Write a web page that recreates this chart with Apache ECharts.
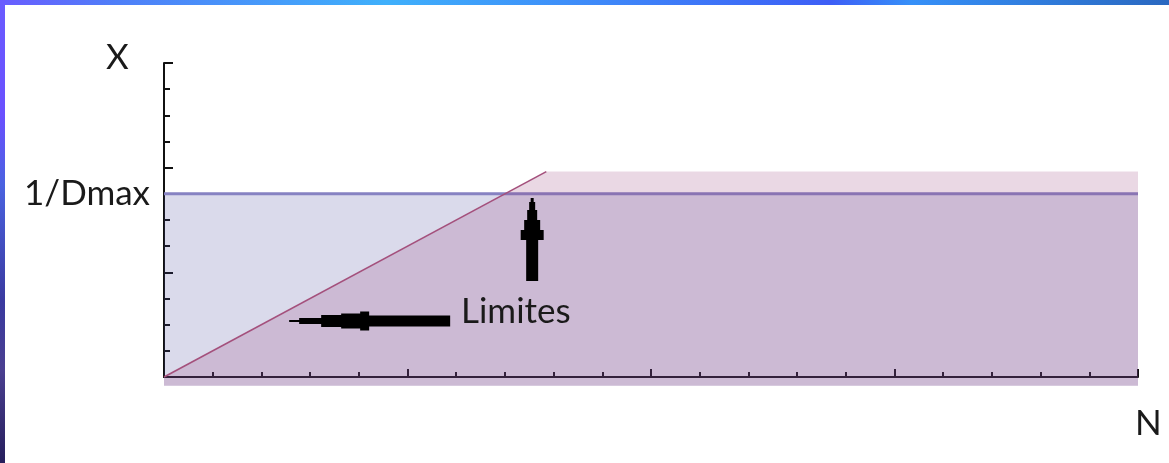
<!DOCTYPE html>
<html>
<head>
<meta charset="utf-8">
<script src="https://cdn.jsdelivr.net/npm/echarts@6/dist/echarts.min.js"></script>
<style>
  html, body { margin: 0; padding: 0; background: #fff; }
  #chart { width: 1169px; height: 463px; }
</style>
</head>
<body>
<div id="chart"></div>
<script>
// N axis range and X axis range
var nRange = [0, 20];
var xRange = [0, 12];

// 1/Dmax level (horizontal line)
var dmaxN = [0, 20];
var dmaxX = [7, 7];

// N/D curve: rises as N/D, then flat
var ndN = [0, 7.85, 20];
var ndX = [0, 7.85, 7.85];

// arrow tips (data coords) for the "Limites" annotation
var arrowLeftTip = [2.57, 2.14];
var arrowUpTip = [7.56, 6.84];

var fillBottom = -0.33; // fill goes a bit under the N axis

function pairs(a, b) {
    var out = [];
    for (var i = 0; i < a.length; i++) out.push([a[i], b[i]]);
    return out;
}

var txtFont = 'Lato';
var txtSize = 35;
var axisColor = '#111';
var chart = echarts.init(document.getElementById('chart'));

var option = {
    backgroundColor: '#fff',
    animation: false,
    grid: {left: 164, top: 63, right: 31, bottom: 86},
    xAxis: [
        {
            type: 'value', min: nRange[0], max: nRange[1], interval: 1,
            axisLine: {onZero: false, lineStyle: {color: axisColor, width: 2}},
            axisTick: {inside: true, length: 5, lineStyle: {color: axisColor, width: 2}},
            axisLabel: {show: false},
            splitLine: {show: false}
        },
        {
            // longer ticks every 5
            type: 'value', position: 'bottom', min: nRange[0], max: nRange[1], interval: 5,
            axisLine: {show: false, onZero: false},
            axisTick: {inside: true, length: 8, lineStyle: {color: axisColor, width: 2}},
            axisLabel: {show: false},
            splitLine: {show: false}
        }
    ],
    yAxis: [
        {
            type: 'value', min: xRange[0], max: xRange[1], interval: 1,
            axisLine: {onZero: false, lineStyle: {color: axisColor, width: 2}},
            axisTick: {inside: true, length: 6, lineStyle: {color: axisColor, width: 2}},
            axisLabel: {
                margin: 14, fontFamily: txtFont, fontSize: txtSize, color: '#1a1a1a',
                formatter: function (v) { return v === dmaxX[0] ? '1/Dmax' : ''; }
            },
            splitLine: {show: false}
        },
        {
            type: 'value', position: 'left', min: xRange[0], max: xRange[1], interval: 4,
            axisLine: {show: false, onZero: false},
            axisTick: {inside: true, length: 9, lineStyle: {color: axisColor, width: 2}},
            axisLabel: {show: false},
            splitLine: {show: false}
        }
    ],
    series: [
        {
            name: '1/Dmax',
            type: 'line',
            clip: false,
            symbol: 'none',
            data: pairs(dmaxN, dmaxX),
            lineStyle: {color: '#8682c2', width: 3},
            areaStyle: {color: 'rgba(70,70,155,0.2)', opacity: 1, origin: fillBottom},
            z: 2
        },
        {
            name: 'N/D fill',
            type: 'line',
            clip: false,
            symbol: 'none',
            data: pairs(ndN, ndX),
            lineStyle: {width: 0},
            areaStyle: {color: 'rgba(150,60,120,0.2)', opacity: 1, origin: fillBottom},
            z: 3
        },
        {
            name: 'N/D',
            type: 'line',
            clip: false,
            symbol: 'none',
            data: pairs(ndN.slice(0, 2), ndX.slice(0, 2)).map(function (p, i) {
                if (i === 1) {
                    return {
                        value: p,
                        label: {
                            show: true, formatter: 'N/D', position: 'right',
                            offset: [-2, -29], fontFamily: txtFont, fontSize: txtSize, color: '#1a1a1a'
                        }
                    };
                }
                return p;
            }),
            lineStyle: {color: '#a4507c', width: 1.6},
            z: 4
        }
    ]
};
chart.setOption(option);

// annotations placed from data coordinates
var lt = chart.convertToPixel({gridIndex: 0}, arrowLeftTip);
var ut = chart.convertToPixel({gridIndex: 0}, arrowUpTip);

// stepped arrow pointing left: [x from tip, half height]
var hSteps = [[0, 1], [10, 3], [32, 6], [52, 7.5], [71, 9.5], [80, 5.5], [161, 5.5]];
// stepped arrow pointing up: [y from tip, half width]
var vSteps = [[0, 1.5], [4, 3], [12, 5], [22, 8], [32, 11.5], [42, 6], [83, 6]];

function steppedPoly(steps, horiz, tip) {
    var top = [], bot = [];
    for (var i = 0; i < steps.length; i++) {
        var d = steps[i][0], h = steps[i][1];
        var next = i + 1 < steps.length ? steps[i + 1][0] : null;
        if (horiz) {
            top.push([tip[0] + d, tip[1] - h]);
            if (next !== null) top.push([tip[0] + next, tip[1] - h]);
            bot.unshift([tip[0] + d, tip[1] + h]);
            if (next !== null) bot.unshift([tip[0] + next, tip[1] + h]);
        } else {
            top.push([tip[0] - h, tip[1] + d]);
            if (next !== null) top.push([tip[0] - h, tip[1] + next]);
            bot.unshift([tip[0] + h, tip[1] + d]);
            if (next !== null) bot.unshift([tip[0] + h, tip[1] + next]);
        }
    }
    return top.concat(bot);
}

chart.setOption({
    graphic: [
        // slide frame
        {
            type: 'rect', left: 0, top: 0, z: 100,
            shape: {width: 1169, height: 5},
            style: {
                fill: new echarts.graphic.LinearGradient(0, 0, 1, 0, [
                    {offset: 0, color: '#6a5cff'},
                    {offset: 0.1, color: '#4f7ff8'},
                    {offset: 0.33, color: '#3fb0fb'},
                    {offset: 0.71, color: '#3d5ef6'},
                    {offset: 0.78, color: '#3690f8'},
                    {offset: 1, color: '#2a68c0'}
                ])
            }
        },
        {
            type: 'rect', left: 0, top: 0, z: 100,
            shape: {width: 5, height: 463},
            style: {
                fill: new echarts.graphic.LinearGradient(0, 0, 0, 1, [
                    {offset: 0, color: '#6a5cff'},
                    {offset: 0.25, color: '#6a50ff'},
                    {offset: 0.4, color: '#4a62e0'},
                    {offset: 0.65, color: '#3a3aa0'},
                    {offset: 0.8, color: '#4a3f90'},
                    {offset: 1, color: '#261e5c'}
                ])
            }
        },
        {
            type: 'text', left: 106, top: 40, z: 50,
            style: {text: 'X', fontFamily: txtFont, fontSize: txtSize, fill: '#1a1a1a'}
        },
        {
            type: 'text', left: 1135, top: 406, z: 50,
            style: {text: 'N', fontFamily: txtFont, fontSize: txtSize, fill: '#1a1a1a'}
        },
        {
            type: 'text', left: 461, top: 294, z: 50,
            style: {text: 'Limites', fontFamily: txtFont, fontSize: txtSize, fill: '#1a1a1a'}
        },
        {
            type: 'polygon', z: 50,
            shape: {points: steppedPoly(hSteps, true, lt)},
            style: {fill: '#000'}
        },
        {
            type: 'polygon', z: 50,
            shape: {points: steppedPoly(vSteps, false, ut)},
            style: {fill: '#000'}
        }
    ]
});
</script>
</body>
</html>
